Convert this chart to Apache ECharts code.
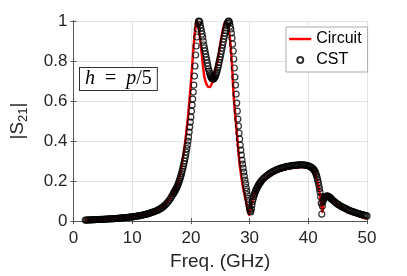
<!DOCTYPE html>
<html><head><meta charset="utf-8">
<script src="https://cdn.jsdelivr.net/npm/echarts@6/dist/echarts.min.js"></script>
<style>html,body{margin:0;padding:0;background:#fff}#c{width:407px;height:276px}</style>
</head><body><div id="c"></div>
<script>
// Circuit model (red line): frequency (GHz) and |S21|
const circuitFreq = [2,4,6,8,10,12,13,14,15,16,17,17.5,18,18.5,19,19.5,20,20.4,20.7,21,21.3,21.8,22.3,22.8,23.2,23.7,24.2,24.6,25.1,25.5,25.9,26.3,26.6,27,27.3,27.8,28.3,28.9,29.5,29.9,30.2,30.6,31,31.5,32,33,34,35,36,37,38,39,40,40.5,41,41.5,42,42.4,42.7,43.2,44,45,46,47,48,49,50];
const circuitS21 = [.005,.008,.011,.015,.021,.032,.04,.051,.068,.096,.14,.17,.21,.29,.39,.52,.69,.85,.95,1.0,.975,.85,.72,.675,.67,.70,.76,.81,.90,.965,1.0,.975,.93,.78,.62,.45,.285,.165,.085,.03,.07,.115,.145,.17,.19,.218,.238,.25,.258,.264,.268,.27,.268,.26,.243,.205,.13,.045,.11,.132,.11,.082,.06,.044,.031,.02,.012];

// CST simulation (circles): sweep segments, each with start freq, step and |S21| values
const cstA = {start: 2.0, step: 0.2, vals: [.005,.005,.005,.006,.006,.006,.006,.007,.007,.007,.008,.008,.008,.009,.009,.009,.009,.010,.010,.010,.011,.011,.012,.012,.012,.013,.013,.014,.014,.015,.015,.016,.016,.017,.018,.018,.019,.019,.020,.021,.021,.022,.023,.024,.025,.026,.027,.028,.029,.030,.032,.033,.035,.036,.038,.040,.042,.044,.046,.048,.050,.053,.056,.059,.062,.066,.070,.075,.080,.086,.093,.100,.108,.117,.127]};
const cstB = {start: 17.0, step: 0.1, vals: [.137,.142,.147,.152,.157,.163,.169,.176,.183,.191,.199,.208,.217,.227,.238,.249,.261,.274,.287,.300,.314,.329,.345,.362,.38,.40,.42,.445,.47,.495,.52,.55,.58,.61,.645,.68,.725,.775,.83,.875,.92,.96,.985,.998,1.0,.995,.98,.965,.95,.935,.92,.90,.88,.865,.85,.835,.82,.805,.79,.775,.76,.75,.74,.73,.722,.717,.713,.711,.71,.712,.716,.72,.727,.735,.745,.755,.767,.78,.793,.807,.82,.835,.85,.865,.88,.895,.91,.925,.94,.953,.965,.977,.987,.995,1.0,.998,.99,.975,.96,.94,.915,.885,.85,.81,.765,.72,.68,.635,.59,.55,.51,.475,.44,.41,.38,.355,.33,.305,.285,.265,.245,.225,.205,.187,.168,.15,.132,.114,.096,.078,.062,.05,.046,.06,.08,.098,.11,.122,.132,.141,.149,.156,.162,.168,.174,.179,.184,.189,.193,.197,.201]};
const cstC = {start: 32.2, step: 0.2, vals: [.208,.214,.219,.224,.229,.233,.237,.241,.245,.248,.251,.254,.257,.259,.261,.263,.265,.267,.269,.27,.272,.273,.274,.275,.276,.277,.278,.279,.279,.28,.28,.281,.281,.281,.281,.281,.28,.279,.278,.276,.274,.271,.267,.262]};
const cstD = {start: 40.9, step: 0.1, vals: [.259,.255,.25,.244,.237,.228,.218,.206,.193,.178,.162,.145,.122,.09,.035,.075,.097,.108,.115,.119,.122,.124,.125,.125,.125,.124,.122,.12,.118,.115,.112,.109]};
const cstE = {start: 44.2, step: 0.2, vals: [.104,.099,.094,.089,.085,.081,.078,.074,.071,.068,.065,.062,.059,.056,.053,.051,.049,.047,.045,.043,.041,.039,.037,.035,.034,.032,.031,.029,.028,.026]};

const xTicks = {min: 0, max: 50, interval: 10};
const yTicks = {min: 0, max: 1, interval: 0.2};

const circuitData = circuitFreq.map((f, i) => [f, circuitS21[i]]);
const cstData = [];
[cstA, cstB, cstC, cstD, cstE].forEach(seg => seg.vals.forEach((v, i) => cstData.push([+(seg.start + i * seg.step).toFixed(2), v])));

const txt = '#262626';
const font = 'Liberation Sans, Arial, sans-serif';
const chart = echarts.init(document.getElementById('c'), null, {renderer: 'canvas'});
chart.setOption({
  animation: false,
  backgroundColor: '#fff',
  grid: {left: 65, right: 40, top: 21, bottom: 53},
  xAxis: [{
    type: 'value', min: xTicks.min, max: xTicks.max, interval: xTicks.interval,
    name: 'Freq. (GHz)', nameLocation: 'middle', nameGap: 30,
    nameTextStyle: {fontSize: 19, color: txt, fontFamily: font},
    axisLine: {show: true, lineStyle: {color: '#555', width: 1}},
    axisTick: {show: true, inside: true, length: 3, lineStyle: {color: '#555'}},
    axisLabel: {fontSize: 17, color: txt, fontFamily: font, margin: 9},
    splitLine: {show: true, lineStyle: {color: '#e3e3e3', width: 1}}
  }, {
    type: 'value', position: 'top', min: xTicks.min, max: xTicks.max, interval: xTicks.interval,
    axisLine: {show: true, lineStyle: {color: '#555', width: 1}},
    axisTick: {show: true, inside: true, length: 3, lineStyle: {color: '#555'}},
    axisLabel: {show: false}, splitLine: {show: false}
  }],
  yAxis: [{
    type: 'value', min: yTicks.min, max: yTicks.max, interval: yTicks.interval,
    name: '|S{s|21}|', nameLocation: 'middle', nameGap: 44, nameRotate: 90,
    nameTextStyle: {fontSize: 19, color: txt, fontFamily: font,
      rich: {s: {fontSize: 13, color: txt, fontFamily: font, padding: [11, 0, 0, 0]}}},
    axisLine: {show: true, lineStyle: {color: '#555', width: 1}},
    axisTick: {show: true, inside: true, length: 3, lineStyle: {color: '#555'}},
    axisLabel: {fontSize: 17, color: txt, fontFamily: font, margin: 6},
    splitLine: {show: true, lineStyle: {color: '#e3e3e3', width: 1}}
  }, {
    type: 'value', position: 'right', min: yTicks.min, max: yTicks.max, interval: yTicks.interval,
    axisLine: {show: true, lineStyle: {color: '#555', width: 1}},
    axisTick: {show: true, inside: true, length: 3, lineStyle: {color: '#555'}},
    axisLabel: {show: false}, splitLine: {show: false}
  }],
  legend: {
    left: 286, top: 27, orient: 'vertical',
    backgroundColor: '#fff', borderColor: '#aaa', borderWidth: 1,
    padding: [4, 6, 4, 2], itemGap: 5, itemWidth: 22, itemHeight: 6,
    textStyle: {fontSize: 16, color: '#000', fontFamily: font},
    data: [
      {name: 'Circuit', itemStyle: {opacity: 0}, lineStyle: {color: '#ff0000', width: 2.5, opacity: 1}},
      'CST'
    ]
  },
  graphic: [{
    type: 'text', left: 79, top: 67, z: 10,
    style: {
      text: '{i|h}\u2002=\u2002{i|p}/5', fill: '#000', font: '20px "Liberation Serif", serif',
      backgroundColor: '#fff', borderColor: '#333', borderWidth: 1, padding: [1, 5, 1, 5],
      rich: {i: {fontStyle: 'italic', fontSize: 20, fontFamily: 'Liberation Serif'}}
    }
  }],
  series: [{
    name: 'Circuit', type: 'line', data: circuitData, symbol: 'none', showSymbol: false, smooth: 0.25,
    lineStyle: {color: '#ff0000', width: 2.5}, itemStyle: {color: '#ff0000'}, z: 2
  }, {
    name: 'CST', type: 'scatter', data: cstData, symbol: 'circle', symbolSize: 6,
    itemStyle: {color: 'transparent', borderColor: '#000', borderWidth: 1.2}, z: 3
  }]
});
</script></body></html>
